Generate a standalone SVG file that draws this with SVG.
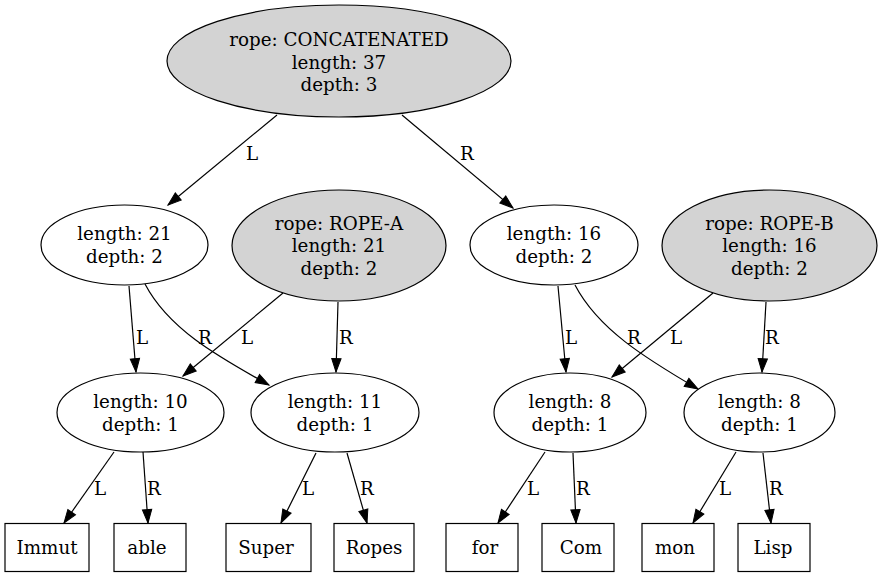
<svg xmlns="http://www.w3.org/2000/svg" width="883" height="577" viewBox="0 0 883 577">
<defs>
<marker id="ah" markerUnits="userSpaceOnUse" markerWidth="14" markerHeight="10" refX="13.3" refY="4.65" orient="auto" overflow="visible">
<path d="M0,0 L13.3,4.65 L0,9.3 Z" fill="#000" stroke="#000" stroke-width="1"/>
</marker>
</defs>
<style>
text{font-family:"DejaVu Serif","Liberation Serif",serif;font-size:18.3px;fill:#000;text-anchor:middle}
.n{fill:#fff;stroke:#000;stroke-width:1.2}
.g{fill:#d3d3d3;stroke:#000;stroke-width:1.2}
.e{fill:none;stroke:#000;stroke-width:1.2;marker-end:url(#ah)}
</style>
<rect width="883" height="577" fill="#fff"/>
<g id="edges">
<path class="e" d="M277,115 L168,205"/>
<path class="e" d="M402,115 L513,208"/>
<path class="e" d="M129,286 L136,372"/>
<path class="e" d="M145,284 C168,328 215,355 269,385"/>
<path class="e" d="M283,293 L183,376"/>
<path class="e" d="M338,302 L336,372"/>
<path class="e" d="M558,286 L566,372"/>
<path class="e" d="M575,285 C598,329 645,358 698,389"/>
<path class="e" d="M713,293 L612,377"/>
<path class="e" d="M766,302 L762,372"/>
<path class="e" d="M114,452 L64,523"/>
<path class="e" d="M143,452 L148,523"/>
<path class="e" d="M316,453 L281,523"/>
<path class="e" d="M347,453 L367,523"/>
<path class="e" d="M545,452 L498,523"/>
<path class="e" d="M573,453 L576,523"/>
<path class="e" d="M736,452 L693,523"/>
<path class="e" d="M763,453 L771,523"/>
<text x="252" y="160">L</text>
<text x="467" y="160">R</text>
<text x="142" y="344">L</text>
<text x="205" y="344">R</text>
<text x="247" y="344">L</text>
<text x="346" y="344">R</text>
<text x="571" y="344">L</text>
<text x="634" y="344">R</text>
<text x="676" y="344">L</text>
<text x="772" y="344">R</text>
<text x="100" y="495">L</text>
<text x="154" y="495">R</text>
<text x="308" y="495">L</text>
<text x="367" y="495">R</text>
<text x="533" y="495">L</text>
<text x="583" y="495">R</text>
<text x="725" y="495">L</text>
<text x="776" y="495">R</text>
</g>
<g id="root">
<ellipse class="g" cx="339" cy="61" rx="172" ry="56"/>
<text x="339" y="46">rope: CONCATENATED</text>
<text x="339" y="68.5">length: 37</text>
<text x="339" y="91">depth: 3</text>
</g>
<g id="n21">
<ellipse class="n" cx="124.5" cy="245" rx="83.5" ry="40"/>
<text x="124.5" y="240">length: 21</text>
<text x="124.5" y="263">depth: 2</text>
</g>
<g id="ropeA">
<ellipse class="g" cx="339" cy="245.5" rx="107" ry="55.5"/>
<text x="339" y="229.5">rope: ROPE-A</text>
<text x="339" y="252">length: 21</text>
<text x="339" y="274.5">depth: 2</text>
</g>
<g id="n16">
<ellipse class="n" cx="554" cy="245" rx="84" ry="40"/>
<text x="554" y="240">length: 16</text>
<text x="554" y="263">depth: 2</text>
</g>
<g id="ropeB">
<ellipse class="g" cx="769.5" cy="245.5" rx="107.5" ry="55.5"/>
<text x="769.5" y="229.5">rope: ROPE-B</text>
<text x="769.5" y="252">length: 16</text>
<text x="769.5" y="274.5">depth: 2</text>
</g>
<g id="n10">
<ellipse class="n" cx="140.5" cy="412.5" rx="83.5" ry="39.5"/>
<text x="140.5" y="408">length: 10</text>
<text x="140.5" y="431">depth: 1</text>
</g>
<g id="n11">
<ellipse class="n" cx="335" cy="412.5" rx="84" ry="39.5"/>
<text x="335" y="408">length: 11</text>
<text x="335" y="431">depth: 1</text>
</g>
<g id="n8a">
<ellipse class="n" cx="570" cy="412.5" rx="76" ry="39.5"/>
<text x="570" y="408">length: 8</text>
<text x="570" y="431">depth: 1</text>
</g>
<g id="n8b">
<ellipse class="n" cx="759.5" cy="412.5" rx="75.5" ry="39.5"/>
<text x="759.5" y="408">length: 8</text>
<text x="759.5" y="431">depth: 1</text>
</g>
<g id="leafImmut"><rect class="n" x="5" y="523.5" width="84" height="48"/><text x="47" y="554">Immut</text></g>
<g id="leafAble"><rect class="n" x="114" y="523.5" width="72" height="48"/><text x="147" y="554">able</text></g>
<g id="leafSuper"><rect class="n" x="226" y="523.5" width="85" height="48"/><text x="266" y="554">Super</text></g>
<g id="leafRopes"><rect class="n" x="334" y="523.5" width="80" height="48"/><text x="374" y="554">Ropes</text></g>
<g id="leafFor"><rect class="n" x="446" y="523.5" width="72" height="48"/><text x="485" y="554">for</text></g>
<g id="leafCom"><rect class="n" x="542" y="523.5" width="72" height="48"/><text x="581" y="554">Com</text></g>
<g id="leafMon"><rect class="n" x="642" y="523.5" width="72" height="48"/><text x="675" y="554">mon</text></g>
<g id="leafLisp"><rect class="n" x="738" y="523.5" width="72" height="48"/><text x="773" y="554">Lisp</text></g>
</svg>
